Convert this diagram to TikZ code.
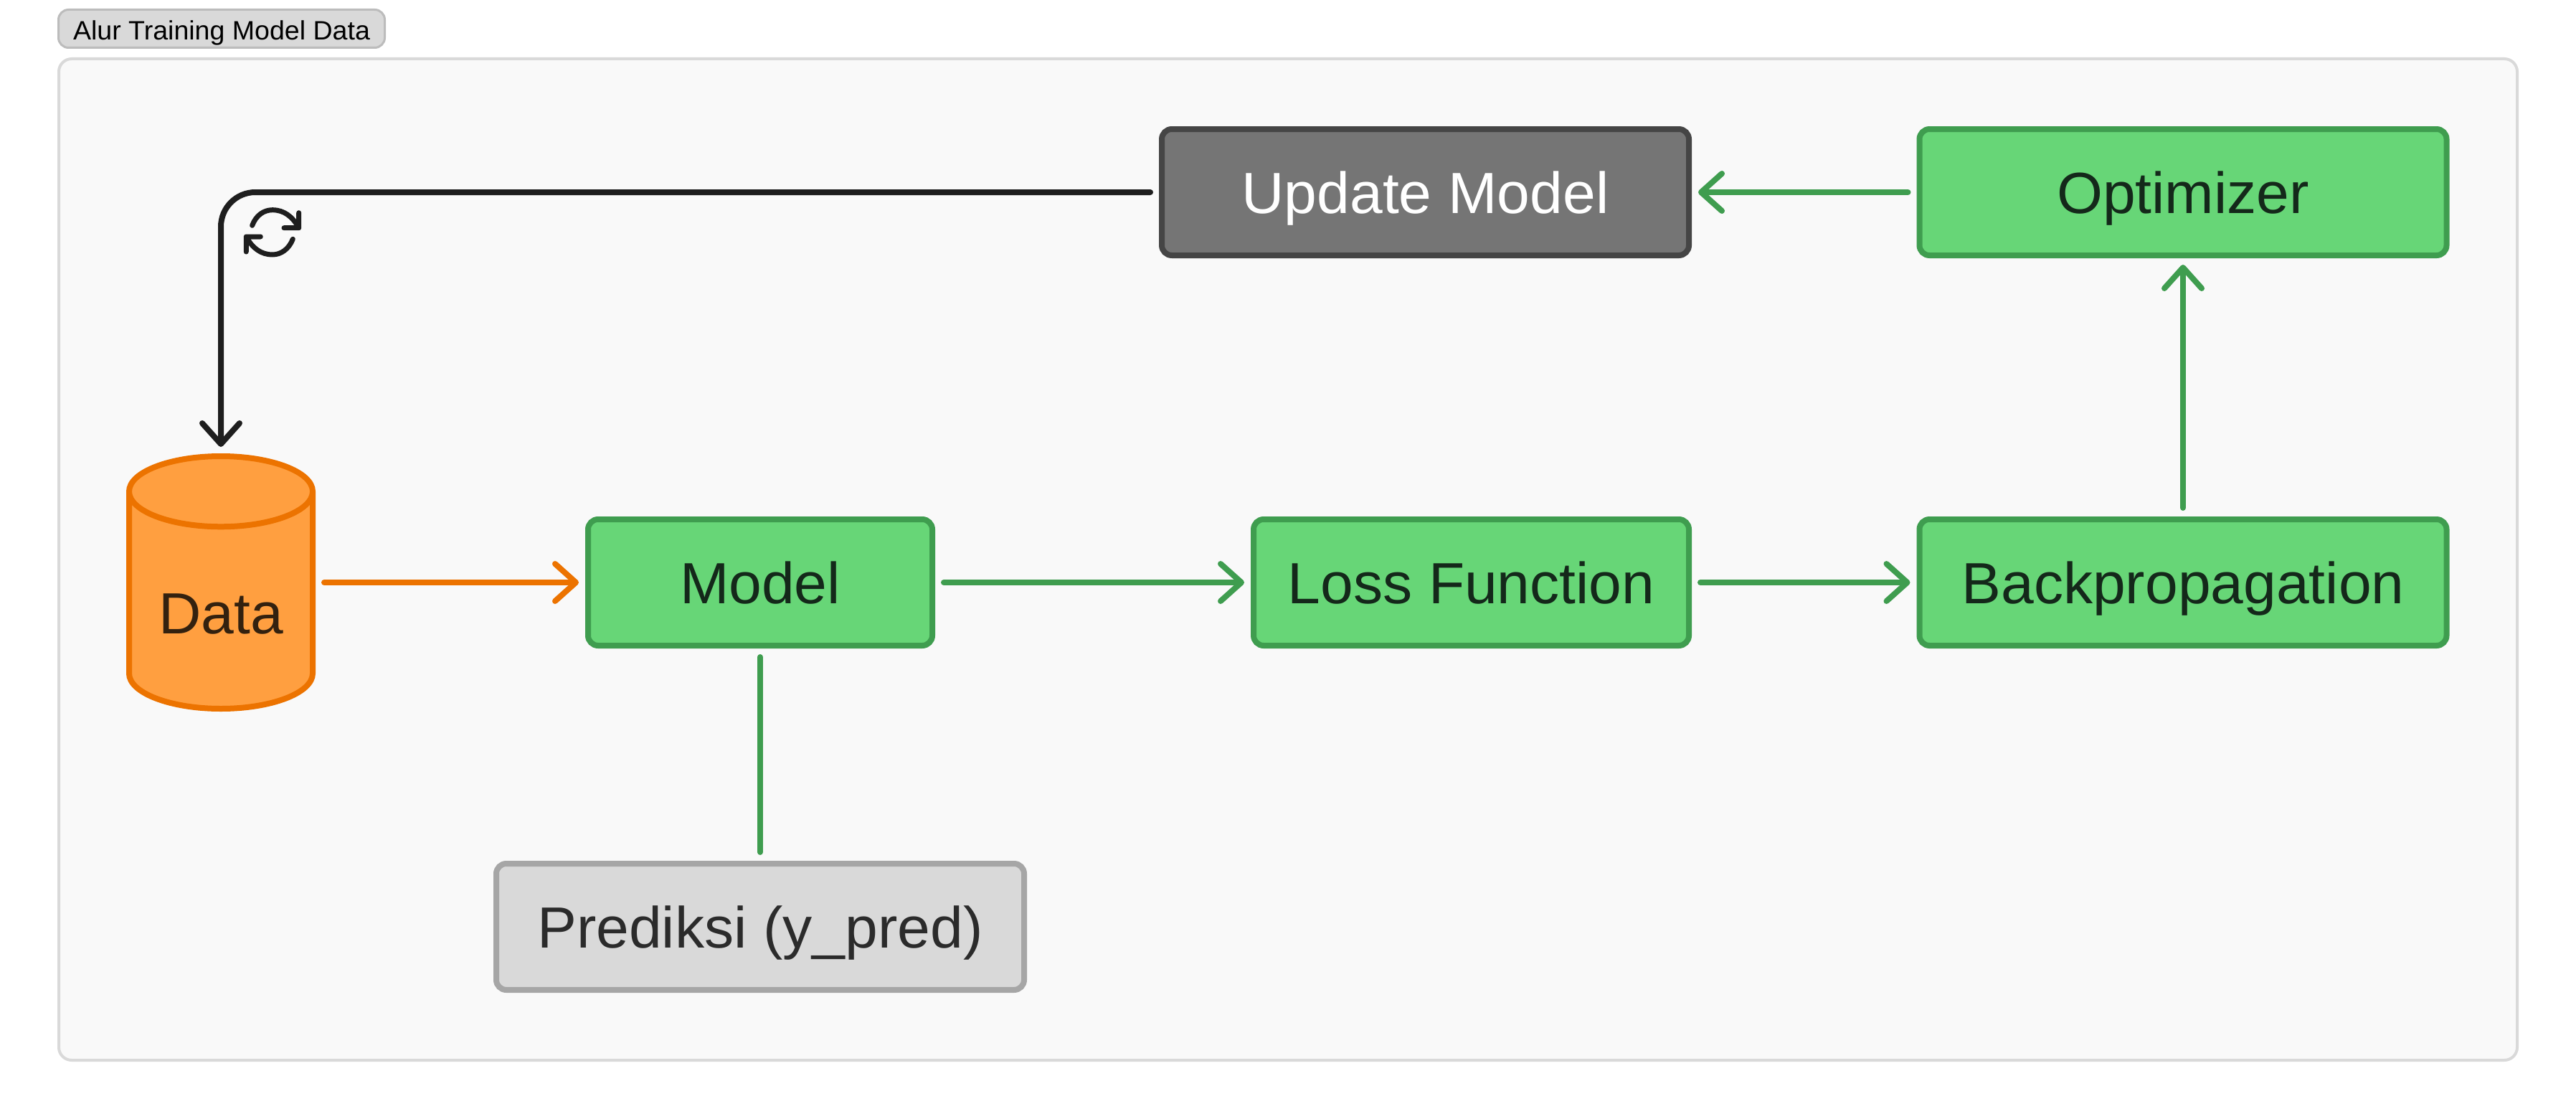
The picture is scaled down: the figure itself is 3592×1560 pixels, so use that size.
\documentclass[tikz,border=0pt]{standalone}
\usepackage{fontspec}
\setmainfont[FakeStretch=1.015]{Liberation Sans}
\usetikzlibrary{arrows.meta, shapes.geometric}

\definecolor{panelfill}{HTML}{F9F9F9}
\definecolor{panelline}{HTML}{D9D9D9}
\definecolor{tagline}{HTML}{BCBCBC}
\definecolor{greenfill}{HTML}{67D677}
\definecolor{greenline}{HTML}{3F9D4F}
\definecolor{greentext}{HTML}{14281A}
\definecolor{orangefill}{HTML}{FF9F40}
\definecolor{orangeline}{HTML}{EC7300}
\definecolor{orangetext}{HTML}{33210F}
\definecolor{updatefill}{HTML}{757575}
\definecolor{updateline}{HTML}{454545}
\definecolor{predfill}{HTML}{D9D9D9}
\definecolor{predline}{HTML}{A6A6A6}
\definecolor{predtext}{HTML}{2B2B2B}
\definecolor{loopline}{HTML}{1E1E1E}

\begin{document}
\begin{tikzpicture}[x=1pt,y=-1pt]

\tikzset{box/.style = {shape=rectangle,draw,line width=8pt,rounded corners=14pt,minimum height=176pt,
  text height=58pt,text depth=0pt,font=\fontsize{81}{90}\selectfont}}
\tikzset{step box/.style = {box,fill=greenfill,draw=greenline,text=greentext}}
\tikzset{edge/.style = {-{Straight Barb[length=29pt,width=52pt,round]},line width=8pt,line cap=round,
  shorten <=12pt,shorten >=9pt}}

\useasboundingbox (0,0) rectangle (3592,1560);
%frame
\node[shape=rectangle,draw=panelline,fill=panelfill,line width=4pt,rounded corners=18pt,
  minimum width=3428pt,minimum height=1396pt] (panel) at (1796,780) {};
\node[shape=rectangle,draw=tagline,fill=predfill,line width=3pt,rounded corners=14pt,inner sep=0pt,
  minimum width=455pt,minimum height=53pt,text height=32pt,text depth=0pt,
  font=\fontsize{37}{44}\selectfont] (tag) at (309,40) {Alur Training Model Data\hspace{14pt}};
%verticies
\node[step box, minimum width=735pt] (optimizer) at (3044,268) {Optimizer};
\node[step box, minimum width=735pt] (backprop) at (3044,812) {Backpropagation};
\node[step box, minimum width=607pt] (loss) at (2051.5,812) {Loss Function};
\node[step box, minimum width=480pt] (model) at (1060,812) {Model};
\node[box, minimum width=735pt, fill=updatefill, draw=updateline, text=white] (update) at (1987.5,268) {Update Model};
\node[box, minimum width=736pt, fill=predfill, draw=predline, text=predtext] (pred) at (1060,1292) {Prediksi (y\_pred)};
\node[shape=cylinder, shape border rotate=90, aspect=0.545, draw=orangeline, fill=orangefill, line width=8pt,
  minimum width=256pt, minimum height=352pt, text=orangetext, text height=78pt, text depth=0pt,
  font=\fontsize{81}{90}\selectfont, anchor=shape center] (data) at (308,812) {Data};
%edges
\draw [edge, draw=loopline, rounded corners=48pt] (update.west) -| (data.north);
\draw [edge, draw=orangeline] (data.east |- model.west) -- (model.west);
\draw [edge, draw=greenline] (model.east) -- (loss.west);
\draw [edge, draw=greenline] (loss.east) -- (backprop.west);
\draw [edge, draw=greenline] (backprop.north) -- (optimizer.south);
\draw [edge, draw=greenline] (optimizer.west) -- (update.east);
\draw [draw=greenline, line width=8pt, line cap=round, shorten <=12pt, shorten >=12pt] (model.south) -- (pred.north);
%loop icon
\draw [draw=loopline, line width=7pt, line cap=round, line join=round]
  (351.7,314.3) .. controls (357,300) and (368,292.7) .. (380,292.7) .. controls (396,292.7) and (408,302) .. (416.7,317.7)
  (416.7,296.7) -- (416.7,317.7) -- (396,317.7)
  (408.3,333.3) .. controls (403,347) and (392,355) .. (380,355) .. controls (364,355) and (352,346) .. (343.3,330)
  (343.3,351) -- (343.3,330) -- (363.3,330);

\end{tikzpicture}
\end{document}
